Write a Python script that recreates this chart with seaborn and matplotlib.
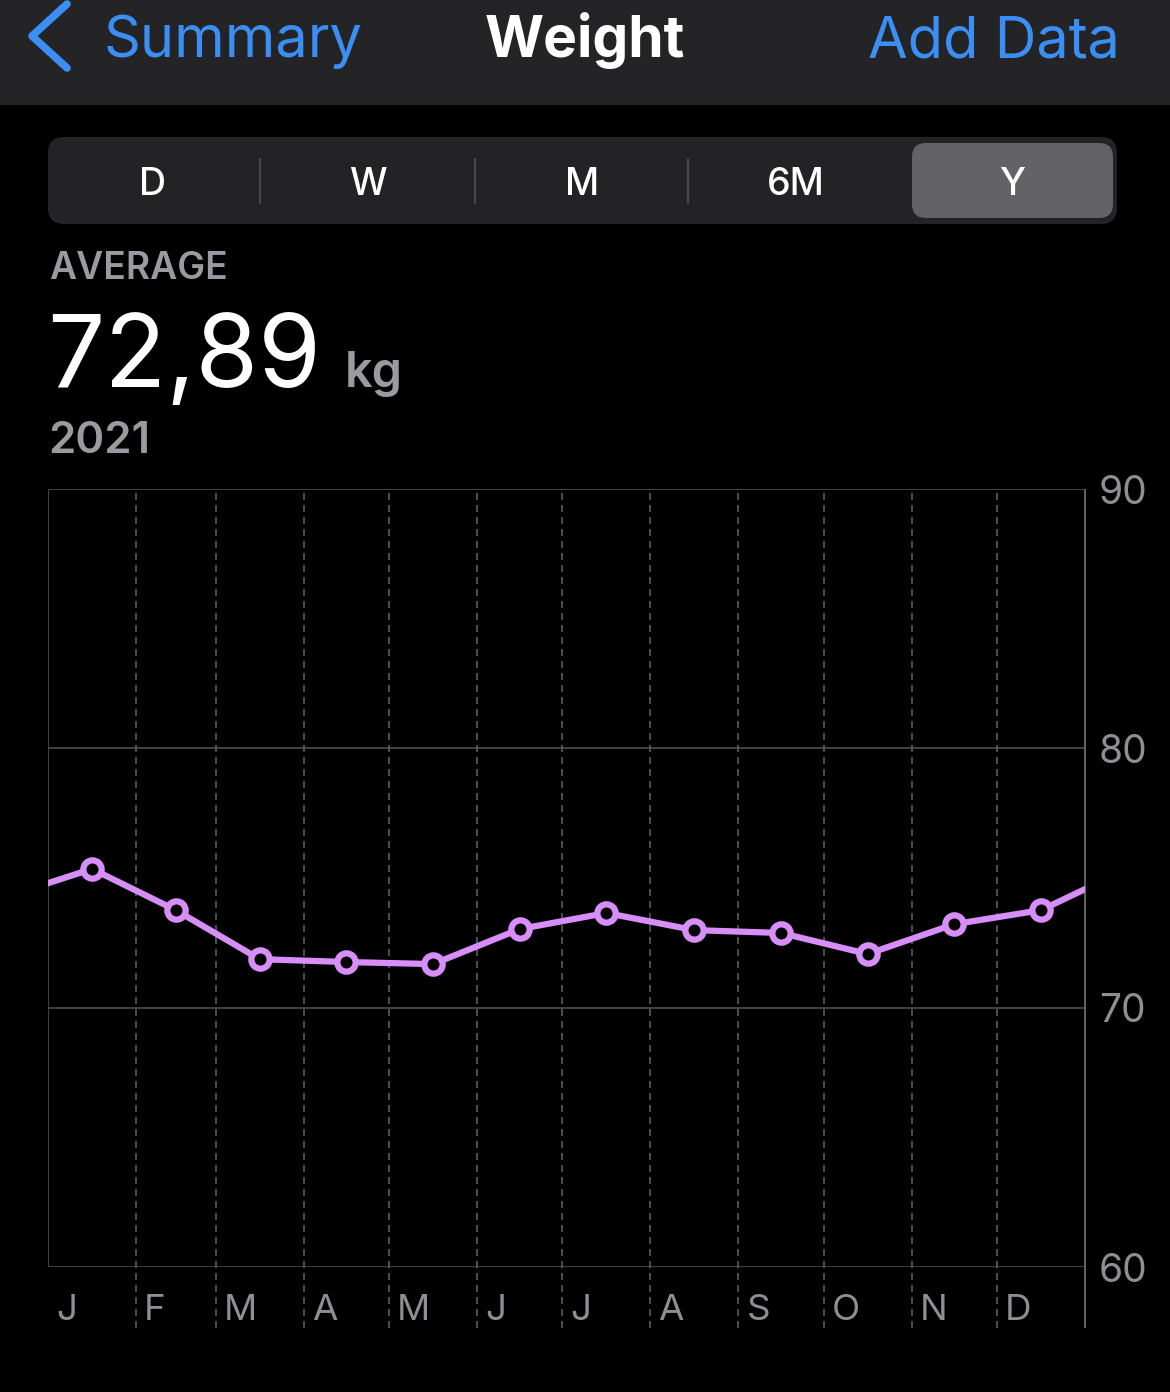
import numpy as np
import pandas as pd
import matplotlib
matplotlib.use('Agg')
import matplotlib.pyplot as plt
import matplotlib.transforms as mtransforms
from matplotlib.patches import FancyBboxPatch, Rectangle
import seaborn as sns

# data
months = ['J', 'F', 'M', 'A', 'M', 'J', 'J', 'A', 'S', 'O', 'N', 'D']
month_starts = [0, 31, 59, 90, 120, 151, 181, 212, 243, 273, 304, 334, 365]
weights = [75.35, 73.76, 71.87, 71.76, 71.68, 73.03, 73.65, 72.99, 72.88, 72.07, 73.22, 73.76]
prev_dec_weight = 74.25   # Dec 2020, off the left edge
next_jan_weight = 75.38   # Jan 2022, off the right edge
y_ticks = [60, 70, 80, 90]
segments = ['D', 'W', 'M', '6M', 'Y']
average_text = '72,89'
unit_text = 'kg'
period_text = '2021'

purple = '#d78ef8'
blue = '#3b8ef3'
gray_text = '#9a9aa0'

sns.set_theme(style='dark', rc={'figure.facecolor': 'black', 'axes.facecolor': 'black',
                                'axes.grid': False})
plt.rcParams['font.family'] = ['Inter', 'DejaVu Sans']

# one point per month (mid-month), plus the neighbours outside the year
mid = [(month_starts[i] + month_starts[i + 1]) / 2 for i in range(12)]
df = pd.DataFrame({'day': [-15.5] + mid + [380.5],
                   'kg': [prev_dec_weight] + weights + [next_jan_weight]})

fig = plt.figure(figsize=(11.7, 13.92), dpi=100)

# ---- background layer in pixel coordinates (header + controls)
bg = fig.add_axes([0, 0, 1, 1])
bg.set_xlim(0, 1170)
bg.set_ylim(1392, 0)
bg.axis('off')

bg.add_patch(Rectangle((0, 0), 1170, 105, color='#242426', lw=0))
bg.plot([67, 32, 67], [4, 36, 68], color=blue, lw=5.5,
        solid_capstyle='round', solid_joinstyle='round')
bg.text(104, 57, 'Summary', color=blue, fontsize=41.5, ha='left', va='baseline')
bg.text(585, 57, 'Weight', color='white', fontsize=41, fontweight='bold',
        ha='center', va='baseline')
bg.text(1120, 57, 'Add Data', color=blue, fontsize=41.5, ha='right', va='baseline')

bg.add_patch(FancyBboxPatch((48, 137), 1069, 87,
                            boxstyle='round,pad=0,rounding_size=16',
                            fc='#232326', ec='none'))
bg.add_patch(FancyBboxPatch((912, 143), 201, 75,
                            boxstyle='round,pad=0,rounding_size=14',
                            fc='#636366', ec='none'))
for xd in [260, 475, 688]:
    bg.plot([xd, xd], [159, 203], color='#48484a', lw=1.6)
for label, xc in zip(segments, [153, 368, 582, 796, 1012]):
    bg.text(xc, 195, label, color='white', fontsize=27, fontweight='medium',
            ha='center', va='baseline')

bg.text(49, 279, 'AVERAGE', color=gray_text, fontsize=26.8, fontweight='semibold',
        ha='left', va='baseline')
bg.text(47, 387, average_text, color='white', fontsize=73, ha='left', va='baseline')
bg.text(345, 387, unit_text, color=gray_text, fontsize=35, fontweight='semibold',
        ha='left', va='baseline')
bg.text(48, 453, period_text, color=gray_text, fontsize=31.5, fontweight='semibold',
        ha='left', va='baseline')

# ---- chart
ax = fig.add_axes([48 / 1170, 125 / 1392, 1037 / 1170, 778 / 1392])
ax.set_facecolor('none')
ax.set_xlim(0, 365)
ax.set_ylim(60, 90)
for s in ax.spines.values():
    s.set_visible(False)

ax.hlines(y_ticks, 0, 365, color='#48484a', lw=1.3, zorder=1)
ax.vlines([0], 60, 90, color='#48484a', lw=1.3, zorder=1)
ax.vlines(month_starts[1:12], 57.65, 90, color='#5c5c60', lw=1.2,
          linestyles=(0, (4.2, 3)), clip_on=False, zorder=1)
ax.vlines([365], 57.65, 90, color='#636366', lw=1.4, clip_on=False, zorder=1)

sns.lineplot(data=df, x='day', y='kg', ax=ax, color=purple, lw=4.5,
             marker='o', estimator=None, zorder=3)
# seaborn applies its own marker defaults, so set the hollow rings afterwards
line = ax.lines[-1]
line.set_markersize(13.2)
line.set_markeredgewidth(4.5)
line.set_markerfacecolor('black')
line.set_markeredgecolor(purple)

ax.set_xlabel('')
ax.set_ylabel('')
ax.set_xticks([])
ax.yaxis.tick_right()
ax.set_yticks(y_ticks)
ax.set_yticklabels([str(v) for v in y_ticks])
ax.tick_params(axis='y', length=0, pad=10, labelsize=28, labelcolor='#8e8e93')

off = mtransforms.offset_copy(ax.transData, fig=fig, x=8, y=0, units='dots')
for m, start in zip(months, month_starts[:12]):
    ax.text(start, 57.96, m, color='#8e8e93', fontsize=26.5, ha='left',
            va='baseline', transform=off)

fig.savefig('out.png', dpi=100, facecolor='black')
